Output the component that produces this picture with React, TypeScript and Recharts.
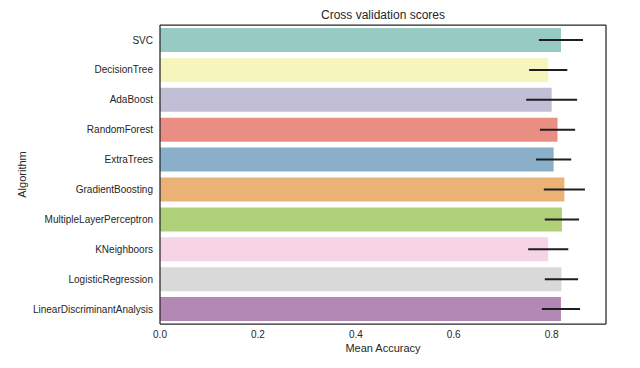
import React from "react";
import {
  BarChart,
  Bar,
  XAxis,
  YAxis,
  Cell,
  ErrorBar,
  CartesianGrid,
} from "recharts";

const algorithms = [
  "SVC",
  "DecisionTree",
  "AdaBoost",
  "RandomForest",
  "ExtraTrees",
  "GradientBoosting",
  "MultipleLayerPerceptron",
  "KNeighboors",
  "LogisticRegression",
  "LinearDiscriminantAnalysis",
];
const meanAccuracy = [0.819, 0.793, 0.8, 0.812, 0.804, 0.826, 0.821, 0.793, 0.82, 0.819];
const stdAccuracy = [0.045, 0.039, 0.052, 0.036, 0.036, 0.042, 0.035, 0.041, 0.034, 0.039];
const barColors = [
  "#96cac2",
  "#f6f6bc",
  "#c1bed6",
  "#ea8e83",
  "#8aafc9",
  "#eab375",
  "#afcf78",
  "#f6d3e5",
  "#d9d9d9",
  "#b488b5",
];
const xTicks = [0, 0.2, 0.4, 0.6, 0.8];

const data = algorithms.map((name, i) => ({
  name,
  mean: meanAccuracy[i],
  err: stdAccuracy[i],
}));

const FONT = "'Liberation Sans', Arial, sans-serif";
const INK = "#262626";

export default function App() {
  return (
    <div style={{ position: "fixed", left: 0, top: 0, width: 640, height: 368, background: "#fff" }}>
      <BarChart
        width={640}
        height={368}
        data={data}
        layout="vertical"
        margin={{ top: 25, right: 34, bottom: 0, left: 0 }}
        style={{ fontFamily: FONT }}
      >
        {/* top and right edges of the frame */}
        <CartesianGrid
          stroke={INK}
          strokeWidth={1.25}
          horizontalCoordinatesGenerator={({ offset }: any) => [offset.top]}
          verticalCoordinatesGenerator={({ offset }: any) => [offset.left + offset.width]}
        />
        <XAxis
          type="number"
          domain={[0, 0.911]}
          ticks={xTicks}
          allowDataOverflow
          tickFormatter={(v: number) => v.toFixed(1)}
          tickLine={false}
          tickSize={5}
          tickMargin={2}
          height={44}
          axisLine={{ stroke: INK, strokeWidth: 1.25 }}
          tick={{ fontSize: 10, fill: INK }}
          label={{
            content: ({ viewBox }: any) => {
              const cx = viewBox.x + viewBox.width / 2;
              return (
                <g fontFamily={FONT} fill={INK}>
                  <text x={cx} y={352} textAnchor="middle" fontSize={11}>
                    Mean Accuracy
                  </text>
                  <text x={cx} y={19} textAnchor="middle" fontSize={12}>
                    Cross validation scores
                  </text>
                </g>
              );
            },
          }}
        />
        <YAxis
          type="category"
          dataKey="name"
          width={160}
          tickLine={false}
          tickSize={5}
          tickMargin={2}
          interval={0}
          axisLine={{ stroke: INK, strokeWidth: 1.25 }}
          tick={{ fontSize: 10, fill: INK }}
          label={{
            content: ({ viewBox }: any) => {
              const cy = viewBox.y + viewBox.height / 2;
              return (
                <text x={26} y={cy} transform={`rotate(-90, 26, ${cy})`} textAnchor="middle" fontSize={11} fill={INK} fontFamily={FONT}>
                  Algorithm
                </text>
              );
            },
          }}
        />
        <Bar dataKey="mean" isAnimationActive={false}>
          {data.map((d, i) => (
            <Cell key={d.name} fill={barColors[i]} />
          ))}
          <ErrorBar dataKey="err" direction="x" width={0} stroke="#1e1e1e" strokeWidth={2} isAnimationActive={false} />
        </Bar>
      </BarChart>
    </div>
  );
}
